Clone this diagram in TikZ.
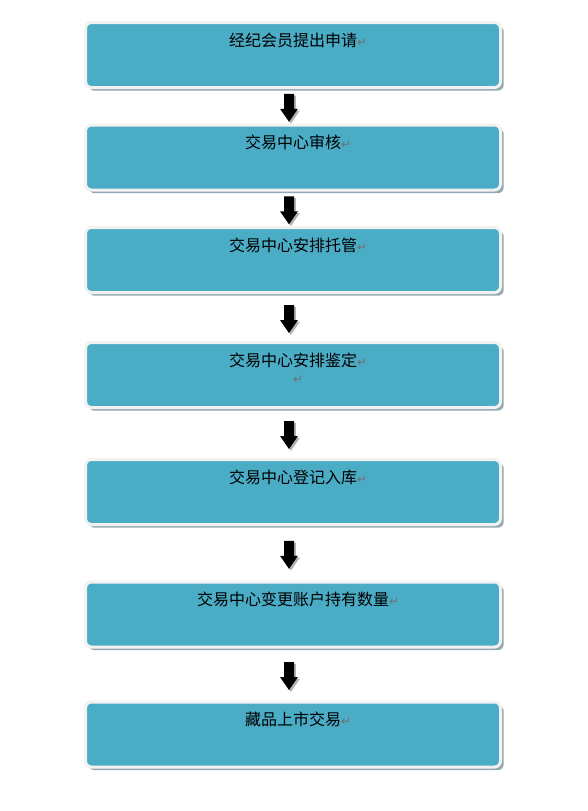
\documentclass[tikz,border=0pt]{standalone}
\usepackage{fontspec}
\newfontfamily\cjk{Noto Sans CJK SC}
\newfontfamily\symfont{DejaVu Sans}
\usetikzlibrary{shadows,calc}
\definecolor{tealfill}{HTML}{4BACC6}
\definecolor{bordcol}{HTML}{F2F2F2}
\definecolor{shadcol}{HTML}{93A9B3}
\definecolor{markcol}{HTML}{707070}
\newcommand\retmark{\rlap{\symfont\fontsize{9}{10}\selectfont\color{markcol}↵}}
\begin{document}
\begin{tikzpicture}[x=0.75pt,y=-0.75pt,
  flowbox/.style={rectangle, rounded corners=4.5pt, fill=tealfill, draw=bordcol,
    line width=2.25pt, minimum width=311.25pt, minimum height=48.75pt, inner sep=0pt,
    drop shadow={shadow xshift=2.4pt, shadow yshift=-2.4pt, fill=shadcol, opacity=1}},
  boxtext/.style={anchor=base, yshift=-19.1pt, font=\cjk\fontsize{12}{14}\selectfont, text=black, inner sep=0pt},
  blockarrow/.style={fill=black,
    drop shadow={shadow xshift=1.4pt, shadow yshift=-1.4pt, fill=gray!60, opacity=1}}
]
\useasboundingbox (0,0) rectangle (587,811);
\fill[white] (0,0) rectangle (587,811);

\node[flowbox, label={[boxtext]north:经纪会员提出申请\retmark}] (b1) at (293,55) {};
\node[flowbox, label={[boxtext]north:交易中心审核\retmark}] (b2) at (293,157.5) {};
\node[flowbox, label={[boxtext]north:交易中心安排托管\retmark}] (b3) at (293,260) {};
\node[flowbox, label={[boxtext]north:交易中心安排鉴定\retmark},
  label={[boxtext, yshift=-12.8pt]north:\retmark}] (b4) at (293,375) {};
\node[flowbox, label={[boxtext]north:交易中心登记入库\retmark}] (b5) at (293,492) {};
\node[flowbox, label={[boxtext]north:交易中心变更账户持有数量\retmark}] (b6) at (293,614.5) {};
\node[flowbox, label={[boxtext]north:藏品上市交易\retmark}] (b7) at (293,734.5) {};

\foreach \i/\j in {1/2,2/3,3/4,4/5,5/6,6/7}{
  \coordinate (a\i) at ($($(b\i.south)!0.5!(b\j.north)$)+(-4,1.5)$);
  \fill[blockarrow] ($(a\i)+(-5,-14)$) -- ($(a\i)+(5,-14)$) -- ($(a\i)+(5,1)$)
    -- ($(a\i)+(9,1)$) -- ($(a\i)+(0,14)$) -- ($(a\i)+(-9,1)$) -- ($(a\i)+(-5,1)$) -- cycle;
}
\end{tikzpicture}
\end{document}
